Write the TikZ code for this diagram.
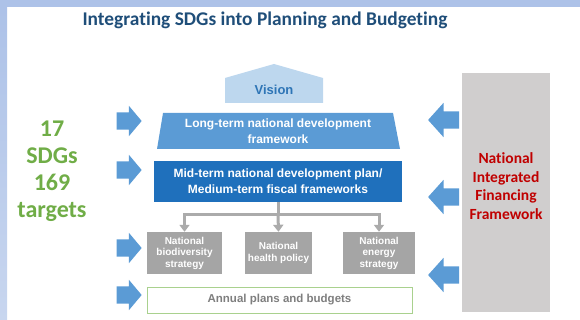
\documentclass[tikz,border=0pt]{standalone}
\usepackage{fontspec}
\setmainfont{Liberation Sans}
\newfontfamily\calibri[Ligatures=NoCommon]{Carlito}
\usetikzlibrary{shapes.arrows}
\usetikzlibrary{arrows.meta}
\pgfdeclarelayer{edgelayer}
\pgfdeclarelayer{nodelayer}
\pgfsetlayers{edgelayer,nodelayer,main}
\definecolor{framebar}{HTML}{ADC2E8}
\definecolor{framelow}{HTML}{C8D6EF}
\definecolor{titleblue}{HTML}{1F4E79}
\definecolor{arrowblue}{HTML}{5B9BD5}
\definecolor{visionfill}{HTML}{BDD7EE}
\definecolor{visiontext}{HTML}{2E75B6}
\definecolor{longfill}{HTML}{5B9BD5}
\definecolor{midfill}{HTML}{1F70BC}
\definecolor{stratgray}{HTML}{A5A5A5}
\definecolor{linkgray}{HTML}{ABABAB}
\definecolor{budgetline}{HTML}{A9D18E}
\definecolor{budgettext}{HTML}{7F7F7F}
\definecolor{panelgray}{HTML}{D0CECE}
\definecolor{sdggreen}{HTML}{70AD47}
\definecolor{niffred}{HTML}{C00000}
\tikzstyle{feedright}=[single arrow,fill=arrowblue,draw=none,inner xsep=0pt,inner ysep=8.5pt,minimum height=25pt,minimum width=30pt,single arrow head extend=6.5pt,single arrow tip angle=100]
\tikzstyle{feedleft}=[style=feedright,shape border rotate=180,minimum height=31pt,minimum width=33pt,single arrow head extend=8.5pt,single arrow tip angle=96]
\tikzstyle{plan}=[rectangle,text=white,align=center,font=\bfseries\fontsize{12}{16}\selectfont]
\tikzstyle{strategy}=[rectangle,fill=stratgray,text=white,align=center,minimum height=42pt,font=\bfseries\fontsize{10}{11.5}\selectfont]
\tikzstyle{flow}=[-{Triangle[width=10pt,length=7pt]},draw=linkgray,line width=3pt]

\begin{document}
\begin{tikzpicture}[x=1pt,y=-1pt]
	\useasboundingbox (0,0) rectangle (580,320);
	% frame
	\fill[framebar] (0,0) rectangle (580,7.5);
	\shade[top color=framebar,bottom color=framelow] (0,7.5) rectangle (7,320);
	\node [font=\calibri\bfseries\fontsize{19.4}{22}\selectfont,text=titleblue] (0) at (265,20) {Integrating SDGs into Planning and Budgeting};
	\begin{pgfonlayer}{nodelayer}
		% vision and long-term framework
		\fill[visionfill] (225,103) -- (225,78) -- (274,64) -- (323,78) -- (323,103) -- cycle;
		\node [font=\bfseries\fontsize{13}{15}\selectfont,text=visiontext] (1) at (274,90) {Vision};
		\fill[longfill] (163,113) -- (393,113) -- (400,149) -- (157,149) -- cycle;
		\node [style=plan] (2) at (278,131) {Long-term national development\\framework};
		\node [style=plan,fill=midfill,minimum width=248pt,minimum height=41pt] (3) at (278,181.5) {Mid-term national development plan/\\Medium-term fiscal frameworks};
		\node [style=strategy,minimum width=75pt] (4) at (184.5,253) {National\\biodiversity\\strategy};
		\node [style=strategy,minimum width=65pt] (5) at (278.5,253) {National\\health policy};
		\node [style=strategy,minimum width=72pt] (6) at (379,253) {National\\energy\\strategy};
		\node [draw=budgetline,line width=1pt,fill=white,minimum width=265pt,minimum height=26pt,text=budgettext,font=\bfseries\fontsize{11.5}{13}\selectfont] (7) at (279.5,300) {Annual plans and budgets};
		% SDGs on the left
		\node [align=center,text=sdggreen,font=\calibri\bfseries\fontsize{24}{27}\selectfont] (8) at (52,171) {17\\SDGs\\169\\targets};
		\node [style=feedright] (9) at (125.5,121) {};
		\node [style=feedright] (10) at (125.5,170) {};
		\node [style=feedright] (11) at (125.5,248) {};
		\node [style=feedright] (12) at (125.5,295) {};
		% financing framework on the right
		\node [style=feedleft] (13) at (447.5,120) {};
		\node [style=feedleft] (14) at (447.5,197) {};
		\node [style=feedleft] (15) at (447.5,275) {};
		\node [fill=panelgray,minimum width=88pt,minimum height=239pt] (16) at (506,192.5) {};
		\node [align=center,text=niffred,font=\calibri\bfseries\fontsize{15.5}{18.5}\selectfont] (17) at (506,186) {National\\Integrated\\Financing\\Framework};
	\end{pgfonlayer}
	\begin{pgfonlayer}{edgelayer}
		\coordinate (18) at (278,215);
		\draw [draw=linkgray,line width=3pt] (3.south) to (18);
		\draw [style=flow] (18) -| (4.north);
		\draw [style=flow] (18) to (5.north);
		\draw [style=flow] (18) -| (6.north);
	\end{pgfonlayer}
\end{tikzpicture}
\end{document}
